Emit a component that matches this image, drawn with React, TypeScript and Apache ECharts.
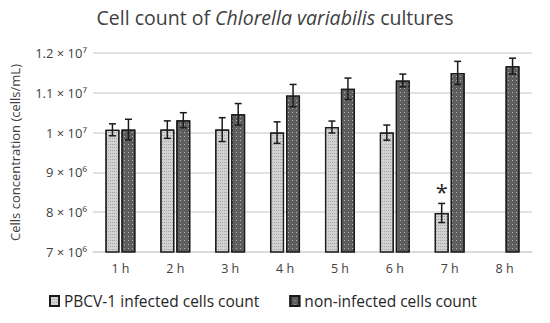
import React, { useEffect, useRef } from "react";
import * as echarts from "echarts";

const categories = ["1 h", "2 h", "3 h", "4 h", "5 h", "6 h", "7 h", "8 h"];
const infected = [10070000, 10075000, 10075000, 10000000, 10140000, 10000000, 7980000, null];
const infectedErr = [150000, 220000, 300000, 270000, 150000, 190000, 240000, null];
const nonInfected = [10075000, 10310000, 10460000, 10930000, 11100000, 11310000, 11500000, 11670000];
const nonInfectedErr = [260000, 190000, 270000, 280000, 270000, 160000, 290000, 200000];
const significant = [false, false, false, false, false, false, true, false];
const seriesNames = ["PBCV-1 infected cells count", "non-infected cells count"];

const SUP: Record<string, string> = { "0": "⁰", "1": "¹", "2": "²", "3": "³", "4": "⁴", "5": "⁵", "6": "⁶", "7": "⁷", "8": "⁸", "9": "⁹" };

function sciLabel(v: number): string {
  const exp = Math.floor(Math.log10(v) + 1e-9);
  const mant = Math.round((v / Math.pow(10, exp)) * 100) / 100;
  const sup = String(exp).split("").map((c) => SUP[c]).join("");
  return `${mant} × 10${sup}`;
}

export default function App() {
  const ref = useRef<HTMLDivElement>(null);
  useEffect(() => {
    document.body.style.margin = "0";
    if (!ref.current) return;
    const chart = echarts.init(ref.current, null, { renderer: "svg" });
    const errData: any[] = [];
    [infected, nonInfected].forEach((vals, s) => {
      const errs = s === 0 ? infectedErr : nonInfectedErr;
      vals.forEach((v, i) => {
        if (v != null && errs[i] != null) errData.push([i, v, errs[i], s, s === 0 && significant[i] ? 1 : 0]);
      });
    });
    const font = "'Open Sans', 'Noto Sans', sans-serif";
    chart.setOption({
      animation: false,
      textStyle: { fontFamily: font },
      title: {
        text: "Cell count of {i|Chlorella variabilis} cultures",
        left: "center",
        top: 2,
        textStyle: {
          fontFamily: font,
          fontSize: 19.5,
          fontWeight: "normal",
          color: "#404040",
          rich: { i: { fontFamily: font, fontSize: 19.5, fontStyle: "italic", color: "#404040" } },
        },
      },
      legend: {
        bottom: 9,
        left: 44,
        itemGap: 30,
        itemWidth: 9,
        itemHeight: 10,
        icon: "rect",
        textStyle: { fontFamily: font, fontSize: 15.5, color: "#262626" },
        data: seriesNames,
      },
      grid: { left: 88, right: 18, top: 53, bottom: 71 },
      xAxis: {
        type: "category",
        data: categories,
        axisLine: { lineStyle: { color: "#d9d9d9", width: 1.5 } },
        axisTick: { show: false },
        axisLabel: { fontFamily: font, fontSize: 12.5, color: "#404040", margin: 10 },
      },
      yAxis: {
        type: "value",
        min: 7000000,
        max: 12000000,
        interval: 1000000,
        name: "Cells concentration (cells/mL)",
        nameLocation: "middle",
        nameGap: 72,
        nameTextStyle: { fontFamily: font, fontSize: 13, color: "#404040" },
        axisLabel: { fontFamily: font, fontSize: 13, color: "#404040", margin: 6, formatter: (v: number) => sciLabel(v) },
        splitLine: { lineStyle: { color: "#d9d9d9", width: 1.5 } },
      },
      series: [
        {
          name: seriesNames[0],
          type: "bar",
          data: infected,
          barWidth: 14,
          barGap: "14%",
          itemStyle: {
            color: "#d2d2d2",
            borderColor: "#1a1a1a",
            borderWidth: 1.2,
            decal: { symbol: "rect", symbolSize: 1, dashArrayX: [1, 1], dashArrayY: [1, 2], color: "rgba(120,120,120,0.5)" },
          },
        },
        {
          name: seriesNames[1],
          type: "bar",
          data: nonInfected,
          barWidth: 14,
          barGap: "14%",
          itemStyle: {
            color: "#5e5e5e",
            borderColor: "#1a1a1a",
            borderWidth: 1.2,
            decal: { symbol: "rect", symbolSize: 1, dashArrayX: [1, 3], dashArrayY: [1, 3], color: "rgba(255,255,255,0.55)" },
          },
        },
        {
          type: "custom",
          data: errData,
          z: 10,
          silent: true,
          encode: { x: 0, y: 1 },
          renderItem: (params: any, api: any) => {
            const i = api.value(0);
            const v = api.value(1);
            const e = api.value(2);
            const s = api.value(3);
            const sig = api.value(4);
            const c = api.coord([i, v]);
            const x = c[0] + (s === 0 ? -8 : 8);
            const top = api.coord([i, v + e])[1];
            const bot = api.coord([i, v - e])[1];
            const st = { stroke: "#1a1a1a", lineWidth: 1.5 };
            const children: any[] = [
              { type: "line", shape: { x1: x, y1: top, x2: x, y2: bot }, style: st },
              { type: "line", shape: { x1: x - 3.5, y1: top, x2: x + 3.5, y2: top }, style: st },
              { type: "line", shape: { x1: x - 3.5, y1: bot, x2: x + 3.5, y2: bot }, style: st },
            ];
            if (sig) {
              children.push({
                type: "text",
                style: { text: "*", x, y: top - 1, textAlign: "center", textVerticalAlign: "bottom", fontSize: 22, fontFamily: font, fill: "#262626" },
              });
            }
            return { type: "group", children };
          },
        },
      ],
    });
    return () => chart.dispose();
  }, []);
  return <div ref={ref} style={{ width: 550, height: 323 }} />;
}
